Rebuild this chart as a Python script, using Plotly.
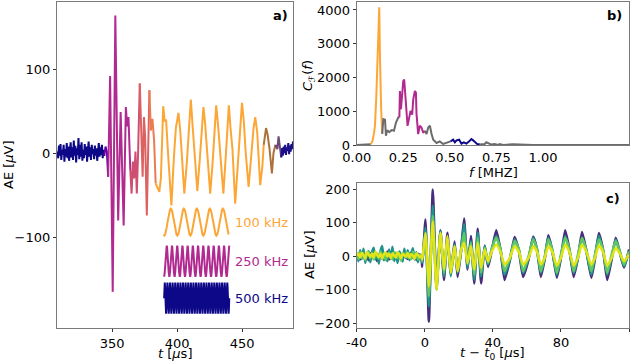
import numpy as np
import plotly.graph_objects as go

# ---------- panel a: AE signal, coloured by dominant frequency ----------
t_noise_start = np.linspace(308, 344, 61)
ae_noise_start = [2, -6, 9, -3, 11, -8, 4, -2, 10, -10, 5, -4, 12, -6, 8, -9, 3, 13, -5, 7,
                  -8, 15, -3, 9, -11, 6, -2, 18, -7, 10, -4, 13, -9, 4, -6, 11, -2, 8, -10, 5,
                  14, -4, 7, -8, 10, -1, 5, -7, 9, -3, 6, -9, 3, 12, -4, 7, -2, 10, -6, 4, -3]

t_purple = [344, 345, 346, 347]
ae_purple = [-3, 8, 2, -28]

t_magenta = [347, 348.5, 350.5, 352.5, 354.7, 356.6, 358.9, 360.6, 361.6, 362.6, 364]
ae_magenta = [-28, 92, -165, 164, -80, 49, -86, 55, 32, 43, -20]

t_pink = [364, 365, 366, 367, 368, 369, 370, 371.3]
ae_pink = [-20, -48, -10, -30, 2, -48, 0, 83]

t_red = [371.3, 372.5, 373.5, 374.5, 375.4, 376.7, 378.7]
ae_red = [83, 25, -28, 43, 20, -74, 75]

t_salmon = [378.7, 379.8, 381, 382.3, 383.5]
ae_salmon = [75, 27, 41, 15, -36]

t_orange = [383.5, 384.8, 386.3, 387.5, 389.3, 390.4, 391.5, 393, 395.6, 397.5, 399, 401, 402.5,
            403.5, 405.5, 407.5, 409, 410.5, 412, 413.5, 415.5, 417.5, 418.8, 420.2, 421.5, 423,
            425.4, 427.3, 428.6, 430, 431.5, 433, 435.5, 437.3, 438.5, 439.7, 441, 442.5, 444.6,
            446.8, 448.3, 449.8, 451.2, 452.7, 454.9, 456.8, 458.7, 460, 461.5, 463.8, 465.5, 466.5]
ae_orange = [-36, -40, -46, -30, 56, 38, 40, 0, -62, -5, 30, 48, 25,
             0, -48, -10, 35, 64, 30, 0, -45, -5, 30, 55, 35, 0,
             -48, -10, 30, 57, 32, 0, -48, -5, 28, 57, 30, 5, -60,
             -5, 35, 60, 38, 0, -40, 0, 30, 43, 25, -38, -15, 10]

t_brown = [466.5, 468.3, 469.5, 471, 472.8, 474, 475.5]
ae_brown = [10, 30, 22, 5, -24, 0, 10]

t_dusk = [475.5, 477, 477.9, 479, 480]
ae_dusk = [10, 5, 20, 8, -5]

t_noise_end = np.linspace(480, 489, 16)
ae_noise_end = [-5, 6, -3, 8, 0, 10, -2, 7, 3, 12, -1, 9, 2, 11, 5, 14]

segments_a = [
    (t_noise_start, ae_noise_start, "#0d0887"),
    (t_purple, ae_purple, "#6a00a8"),
    (t_magenta, ae_magenta, "#b12a90"),
    (t_pink, ae_pink, "#cf4f70"),
    (t_red, ae_red, "#dc6262"),
    (t_salmon, ae_salmon, "#ea7c52"),
    (t_orange, ae_orange, "#fca636"),
    (t_brown, ae_brown, "#ad723c"),
    (t_dusk, ae_dusk, "#6b4a7a"),
    (t_noise_end, ae_noise_end, "#1a0f88"),
]

# reference tones drawn under the signal
unit_cycle = [0.0, 0.38, 0.71, 0.92, 1.0, 0.92, 0.71, 0.38,
              0.0, -0.38, -0.71, -0.92, -1.0, -0.92, -0.71, -0.38]
tone_labels = ["100 kHz", "250 kHz", "500 kHz"]
tone_start = [389.5, 390, 390]
tone_period = [10.0, 4.0, 2.0]
tone_cycles = [5, 12.5, 25]
tone_phase = [11, 12, 0]
tone_centre = [-82, -128.5, -172.5]
tone_amp = [16, 18.5, 18.5]
tone_colors = ["#fca636", "#b12a90", "#0d0887"]

# ---------- panel b: spectrum ----------
f_gray1 = [0, 0.02, 0.04, 0.06, 0.075]
c_gray1 = [0, 0, 0, 5, 20]
f_orange = [0.075, 0.085, 0.093, 0.098, 0.105, 0.111, 0.117, 0.121, 0.125, 0.128, 0.131, 0.134, 0.137]
c_orange = [20, 120, 350, 570, 1400, 2330, 3300, 4080, 2600, 1300, 1150, 700, 330]
f_gray2 = [0.137, 0.143, 0.152, 0.157, 0.164, 0.175, 0.1875, 0.2, 0.211, 0.223, 0.229]
c_gray2 = [330, 765, 750, 275, 441, 380, 440, 420, 667, 814, 814]
f_mag = [0.229, 0.232, 0.2375, 0.2446, 0.25, 0.255, 0.261, 0.268, 0.273, 0.28, 0.289, 0.298,
         0.3036, 0.3125, 0.318, 0.321, 0.33, 0.339, 0.348, 0.357, 0.366]
c_mag = [814, 1598, 1059, 1618, 1892, 1941, 1353, 1010, 568, 760, 1010, 900,
         1353, 1598, 1550, 931, 324, 568, 520, 363, 420]
f_gray3 = [0.366, 0.375, 0.384, 0.393, 0.402, 0.411, 0.429, 0.446, 0.464, 0.482, 0.5, 0.504]
c_gray3 = [420, 324, 520, 568, 324, 157, 60, 108, 31, 60, 108, 108]
f_navy = [0.504, 0.518, 0.527, 0.536, 0.55, 0.5625, 0.575, 0.589, 0.604, 0.616, 0.625, 0.634, 0.646, 0.661]
c_navy = [108, 157, 80, 137, 157, 40, 80, 40, 108, 176, 137, 80, 31, 12]
f_gray4 = [0.661, 0.67, 0.6875, 0.696, 0.705, 0.723, 0.741, 0.759, 0.768, 0.786, 0.839, 0.875,
           0.911, 0.946, 1.125, 1.464]
c_gray4 = [12, 12, 31, 80, 60, 12, 31, 0, 25, 0, 25, 25, 10, 0, 0, 0]

segments_b = [
    (f_gray1, c_gray1, "#6b6b6b"),
    (f_orange, c_orange, "#fca636"),
    (f_gray2, c_gray2, "#6b6b6b"),
    (f_mag, c_mag, "#b12a90"),
    (f_gray3, c_gray3, "#6b6b6b"),
    (f_navy, c_navy, "#0d0887"),
    (f_gray4, c_gray4, "#6b6b6b"),
]

# ---------- panel c: aligned events ----------
tc_pre = np.arange(-40, -1, 1.0)
tc_burst = [-1.5, 0.4, 2.4, 4.7, 6.9, 9.2, 11.3, 13.3, 15.3, 17.5, 19.3, 21.2, 23.1, 25.1, 27.1,
            29.1, 31.1, 33.1, 35.2, 37.2, 39.5, 42, 44.5, 46.9, 50, 52.8, 55.3, 57.8, 61, 63.7,
            66, 68.2, 70.5, 72.6, 75, 77.6, 80, 82.5, 85, 87.5, 90, 92.4, 95, 97.9, 100, 102.3,
            104.8, 107.2, 109.8, 112.2, 114.6, 117.1, 120]

purple_pre = [-5, 8, -10, 4, 12, -6, 3, -12, 7, 10, -4, 6, -14, 2, 9, -8, 5, -3, 14, -10,
              6, 11, -7, 2, -12, 8, 4, -9, 13, -2, -8, 6, 10, -5, 3, -11, 7, 2, -6]
purple_burst = [-32, 109, -195, 199, -91, 77, -71, 70, -53, 44, -62, 10, 112, -40, 60, -81, 82, -81, 32, -32, 20,
                77, 18, -71, -12, 57, 15, -62, -10, 59, 20, -62, -8, 62, 15, -64, -5, 77, 20, -62, -5, 72, 15, -64, -8, 69,
                18, -71, -10, 55, 12, -34, 20]
teal_pre = [10, -15, 18, -8, 22, -20, 5, 15, -18, 12, 25, -10, 8, -22, 16, 30, -12, 6, -15, 20,
            -8, 28, -14, 10, -20, 14, 4, -16, 22, -6, 18, -12, 8, 24, -10, 12, -18, 6, -4]
teal_burst = [-20, 85, -150, 150, -100, 75, -60, 55, -60, 35, -50, 15, 95, -35, 45, -70, 70, -60, 30, -25, 25,
              60, 20, -55, -10, 50, 18, -50, -5, 55, 15, -50, -5, 55, 12, -55, 0, 60, 15, -50, -5, 55, 12, -55, 0, 60,
              15, -55, -5, 50, 10, -30, 15]
green_pre = [4, -8, 12, -5, 9, -12, 6, 14, -6, 3, -10, 11, 2, -7, 15, -4, 8, -11, 5, 10,
             -3, -9, 12, 4, -6, 9, -13, 7, 2, 11, -5, 8, -8, 13, -2, 6, -10, 4, -3]
green_burst = [-15, 70, -120, 120, -90, 65, -50, 50, -45, 30, -45, 10, 70, -25, 40, -55, 55, -50, 25, -20, 25,
               55, 20, -45, -5, 45, 22, -45, 0, 50, 20, -45, 0, 50, 18, -50, 5, 55, 20, -45, 5, 55, 18, -45, 5, 50,
               18, -50, 5, 45, 15, -25, 15]
yellow_pre = [2, 8, -4, 10, 3, -6, 12, 5, -2, 9, -5, 14, 4, -3, 8, -8, 6, 11, -1, 7,
              -6, 9, 2, -4, 12, 5, -7, 8, 3, -2, 10, -5, 6, 2, -8, 9, 4, -3, 1]
yellow_burst = [-10, 68, -90, 103, -100, 70, -40, 60, -50, 30, -45, 15, 40, -20, 30, -40, 40, -35, 20, -15, 15,
                35, 12, -25, -5, 30, 12, -25, -5, 30, 12, -25, -5, 30, 12, -28, -5, 35, 12, -28, -5, 35, 12, -25, -5, 32,
                12, -28, -5, 25, 8, -15, 5]

events_c = [
    (purple_pre, purple_burst, "#472d7b"),
    (teal_pre, teal_burst, "#21918c"),
    (green_pre, green_burst, "#5ec962"),
    (yellow_pre, yellow_burst, "#e2e418"),
]

FONT = "DejaVu Sans"
fig = go.Figure()

for t, y, col in segments_a:
    fig.add_trace(go.Scatter(x=list(t), y=y, mode="lines", line=dict(color=col, width=2),
                             xaxis="x", yaxis="y", showlegend=False))

for i in range(3):
    n = int(round(16 * tone_cycles[i])) + 1
    tt = [tone_start[i] + k * tone_period[i] / 16 for k in range(n)]
    yy = [tone_centre[i] + tone_amp[i] * unit_cycle[(k + tone_phase[i]) % 16] for k in range(n)]
    fig.add_trace(go.Scatter(x=tt, y=yy, mode="lines", line=dict(color=tone_colors[i], width=2),
                             xaxis="x", yaxis="y", showlegend=False))
    fig.add_annotation(x=443, y=tone_centre[i], xref="x", yref="y", text=tone_labels[i],
                       showarrow=False, xanchor="left", yanchor="middle",
                       font=dict(family=FONT, size=13, color=tone_colors[i]))

for f, c, col in segments_b:
    fig.add_trace(go.Scatter(x=f, y=c, mode="lines", line=dict(color=col, width=2),
                             xaxis="x2", yaxis="y2", showlegend=False))

for pre, burst, col in events_c:
    fig.add_trace(go.Scatter(x=list(tc_pre) + tc_burst, y=pre + burst, mode="lines",
                             line=dict(color=col, width=2.5, shape="spline", smoothing=0.5),
                             xaxis="x3", yaxis="y3", showlegend=False))

W, H = 640, 361
def px(x):
    return x / W
def py(y):
    return 1 - y / H

axis_style = dict(showline=True, linecolor="#7a7a7a", linewidth=1.2, mirror=True, ticks="outside",
                  ticklen=3, tickcolor="#333", showgrid=False, zeroline=False,
                  tickfont=dict(family=FONT, size=13, color="black"))
# panel b has its x labels tucked right under the axis, no tick marks
axis_b_x = dict(axis_style, ticks="")

fig.update_layout(
    width=W, height=H, margin=dict(l=0, r=0, t=0, b=0, autoexpand=False),
    paper_bgcolor="white", plot_bgcolor="white",
    xaxis=dict(domain=[px(57), px(293)], range=[307.7, 489], anchor="y",
               tickvals=[350, 400, 450], **axis_style),
    yaxis=dict(domain=[py(328), py(2)], range=[-208, 180], anchor="x",
               tickvals=[-100, 0, 100], **axis_style),
    xaxis2=dict(domain=[px(356.7), px(629)], range=[0, 1.462], anchor="y2",
                tickvals=[0, 0.25, 0.5, 0.75, 1.0], ticktext=["0.00", "0.25", "0.50", "0.75", "1.00"],
                **axis_b_x),
    yaxis2=dict(domain=[py(145), py(2)], range=[0, 4235], anchor="x2",
                tickvals=[0, 1000, 2000, 3000, 4000], **axis_style),
    xaxis3=dict(domain=[px(356.7), px(629)], range=[-40, 120], anchor="y3",
                tickvals=[-40, 0, 40, 80, 120], ticktext=["-40", "0", "40", "80", "120"], **axis_style),
    yaxis3=dict(domain=[py(327.7), py(183)], range=[-213, 218], anchor="x3",
                tickvals=[-200, -100, 0, 100, 200], **axis_style),
)

titles = [
    ("AE [<i>μ</i>V]", 8, 165, -90),
    ("<i>t</i> [<i>μ</i>s]", 175, 353, 0),
    ("<i>C</i><sub>ℱ</sub>(<i>f</i>)", 308, 76, -90),
    ("<i>f</i> [MHZ]", 493, 172, 0),
    ("AE [<i>μ</i>V]", 309, 255, -90),
    ("<i>t</i> − <i>t</i><sub>0</sub> [<i>μ</i>s]", 492, 353, 0),
]
for text, x, y, ang in titles:
    fig.add_annotation(x=px(x), y=py(y), xref="paper", yref="paper", text=text, textangle=ang,
                       showarrow=False, xanchor="center", yanchor="middle",
                       font=dict(family=FONT, size=13, color="black"))

for text, x, y in [("a)", 280, 15), ("b)", 614, 15), ("c)", 613, 198)]:
    fig.add_annotation(x=px(x), y=py(y), xref="paper", yref="paper", text="<b>%s</b>" % text,
                       showarrow=False, xanchor="center", yanchor="middle",
                       font=dict(family=FONT, size=13, color="black"))

# the page body has a default 8px margin; drop it so the figure fills the window
fig.write_html("out.html", config={"displayModeBar": False},
               post_script="document.body.style.margin='0';")
